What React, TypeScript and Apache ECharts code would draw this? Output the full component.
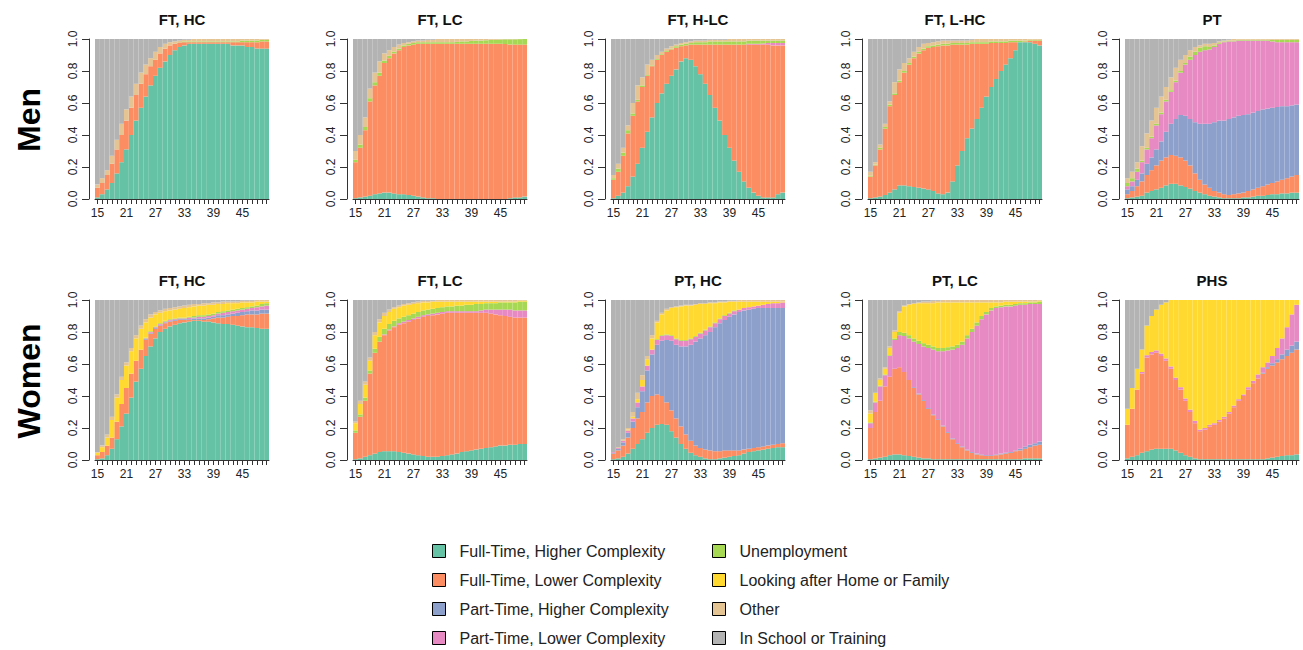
import React, { useEffect, useRef } from 'react';
import * as echarts from 'echarts';

const ages = ['15','16','17','18','19','20','21','22','23','24','25','26','27','28','29','30','31','32','33','34','35','36','37','38','39','40','41','42','43','44','45','46','47','48','49','50'];

const stateNames = [
  'Full-Time, Higher Complexity',
  'Full-Time, Lower Complexity',
  'Part-Time, Higher Complexity',
  'Part-Time, Lower Complexity',
  'Unemployment',
  'Looking after Home or Family',
  'Other',
  'In School or Training',
];
const stateColors = ['#66C2A5', '#FC8D62', '#8DA0CB', '#E78AC3', '#A6D854', '#FFD92F', '#E5C494', '#B3B3B3'];

// Upper edge of each stacked layer (cumulative share).
// Men, FT HC
const mFTHC_ftHigh = [0.01,0.03,0.06,0.10,0.16,0.23,0.31,0.40,0.49,0.57,0.64,0.71,0.77,0.82,0.86,0.90,0.93,0.95,0.96,0.97,0.97,0.97,0.97,0.97,0.97,0.97,0.97,0.97,0.96,0.96,0.96,0.95,0.95,0.94,0.94,0.94];
const mFTHC_ftLow = [0.07,0.10,0.15,0.22,0.31,0.40,0.49,0.57,0.65,0.72,0.78,0.83,0.87,0.91,0.94,0.96,0.97,0.975,0.98,0.98,0.98,0.98,0.98,0.98,0.98,0.98,0.98,0.98,0.98,0.98,0.98,0.98,0.98,0.98,0.985,0.985];
const mFTHC_unemp = [0.07,0.10,0.15,0.22,0.31,0.40,0.49,0.57,0.65,0.72,0.78,0.83,0.87,0.91,0.94,0.96,0.97,0.975,0.985,0.985,0.985,0.985,0.985,0.985,0.985,0.985,0.985,0.985,0.985,0.985,0.99,0.99,0.99,0.99,0.995,0.995];
const mFTHC_other = [0.09,0.13,0.18,0.27,0.37,0.47,0.56,0.64,0.72,0.79,0.84,0.88,0.92,0.95,0.97,0.98,0.985,0.99,0.995,0.995,1,1,1,1,1,1,1,1,1,1,1,1,1,1,1,1];

// Men, FT LC
const mFTLC_ftHigh = [0.005,0.01,0.015,0.02,0.03,0.035,0.04,0.04,0.035,0.03,0.03,0.025,0.02,0.015,0.01,0.005,0.005,0,0,0,0,0,0,0,0,0,0,0,0,0,0,0,0.005,0.01,0.01,0.015];
const mFTLC_ftLow = [0.23,0.32,0.43,0.61,0.71,0.77,0.85,0.88,0.91,0.93,0.95,0.96,0.965,0.97,0.97,0.97,0.97,0.97,0.97,0.97,0.97,0.97,0.97,0.97,0.97,0.97,0.97,0.97,0.97,0.97,0.97,0.968,0.966,0.965,0.965,0.965];
const mFTLC_unemp = [0.245,0.34,0.45,0.63,0.73,0.79,0.865,0.895,0.92,0.94,0.96,0.97,0.975,0.98,0.98,0.98,0.98,0.98,0.98,0.98,0.98,0.982,0.985,0.985,0.988,0.99,0.99,0.992,0.995,0.995,0.997,0.998,0.998,0.998,0.999,1];
const mFTLC_other = [0.30,0.40,0.51,0.69,0.79,0.86,0.91,0.93,0.95,0.965,0.975,0.98,0.985,0.99,0.99,0.995,0.995,1,1,1,1,1,1,1,1,1,1,1,1,1,1,1,1,1,1,1];

// Men, FT H-LC
const mFTHLC_ftHigh = [0.005,0.02,0.04,0.08,0.14,0.22,0.32,0.42,0.51,0.60,0.66,0.72,0.77,0.81,0.86,0.88,0.87,0.83,0.78,0.72,0.65,0.57,0.49,0.40,0.32,0.24,0.17,0.11,0.07,0.04,0.02,0.01,0.01,0.01,0.03,0.04];
const mFTHLC_ftLow = [0.12,0.17,0.27,0.41,0.52,0.61,0.70,0.77,0.83,0.87,0.90,0.92,0.935,0.945,0.955,0.96,0.965,0.965,0.965,0.965,0.965,0.965,0.965,0.965,0.965,0.965,0.965,0.965,0.965,0.965,0.965,0.965,0.965,0.96,0.96,0.96];
const mFTHLC_ptLow = [0.12,0.17,0.27,0.41,0.52,0.61,0.70,0.77,0.83,0.87,0.90,0.92,0.935,0.945,0.955,0.96,0.965,0.965,0.965,0.965,0.965,0.965,0.965,0.965,0.965,0.965,0.965,0.965,0.97,0.97,0.97,0.972,0.975,0.975,0.975,0.975];
const mFTHLC_unemp = [0.13,0.19,0.29,0.43,0.535,0.62,0.71,0.775,0.835,0.875,0.905,0.925,0.94,0.955,0.965,0.97,0.975,0.98,0.98,0.98,0.985,0.985,0.985,0.985,0.985,0.985,0.985,0.985,0.99,0.99,0.99,0.99,0.99,0.99,0.99,0.99];
const mFTHLC_other = [0.15,0.22,0.32,0.46,0.60,0.71,0.76,0.84,0.87,0.90,0.92,0.94,0.955,0.965,0.975,0.98,0.985,0.99,0.99,0.99,0.995,0.995,0.995,0.995,1,1,1,1,1,1,1,1,1,1,1,1];

// Men, FT L-HC
const mFTLHC_ftHigh = [0.005,0.01,0.015,0.025,0.04,0.06,0.085,0.085,0.08,0.075,0.07,0.065,0.06,0.05,0.035,0.03,0.04,0.11,0.21,0.30,0.38,0.44,0.50,0.57,0.64,0.70,0.75,0.80,0.84,0.88,0.93,0.98,0.98,0.98,0.97,0.96];
const mFTLHC_ftLow = [0.14,0.21,0.31,0.44,0.58,0.65,0.73,0.79,0.84,0.88,0.91,0.93,0.945,0.95,0.955,0.96,0.96,0.965,0.965,0.965,0.965,0.97,0.97,0.97,0.97,0.975,0.975,0.975,0.975,0.98,0.98,0.98,0.985,0.99,0.99,0.99];
const mFTLHC_unemp = [0.145,0.215,0.32,0.45,0.59,0.66,0.74,0.80,0.85,0.89,0.92,0.94,0.955,0.96,0.965,0.97,0.97,0.975,0.975,0.975,0.975,0.98,0.98,0.98,0.98,0.985,0.985,0.985,0.985,0.99,0.99,0.99,0.99,0.995,0.995,0.995];
const mFTLHC_other = [0.17,0.23,0.34,0.47,0.61,0.73,0.81,0.85,0.88,0.92,0.95,0.97,0.975,0.98,0.985,0.99,0.99,0.99,0.99,0.99,0.99,0.995,1,1,1,1,1,1,1,1,1,1,1,1,1,1];

// Men, PT
const mPT_ftHigh = [0.005,0.01,0.015,0.02,0.04,0.05,0.06,0.07,0.085,0.095,0.095,0.085,0.075,0.065,0.05,0.04,0.03,0.02,0.015,0.01,0.005,0.005,0.005,0.005,0.01,0.01,0.015,0.02,0.02,0.025,0.03,0.03,0.035,0.035,0.04,0.04];
const mPT_ftLow = [0.03,0.05,0.08,0.11,0.15,0.18,0.21,0.24,0.26,0.275,0.27,0.26,0.24,0.21,0.16,0.12,0.09,0.07,0.05,0.04,0.03,0.025,0.03,0.035,0.04,0.05,0.06,0.07,0.08,0.09,0.10,0.11,0.12,0.13,0.14,0.15];
const mPT_ptHigh = [0.06,0.08,0.12,0.16,0.22,0.26,0.31,0.36,0.42,0.47,0.50,0.525,0.52,0.50,0.48,0.47,0.47,0.47,0.48,0.49,0.49,0.50,0.51,0.52,0.525,0.53,0.54,0.55,0.56,0.565,0.57,0.575,0.58,0.58,0.585,0.59];
const mPT_ptLow = [0.08,0.11,0.17,0.23,0.31,0.38,0.46,0.53,0.61,0.67,0.73,0.79,0.84,0.87,0.90,0.92,0.93,0.935,0.95,0.97,0.98,0.985,0.985,0.99,0.99,0.99,0.99,0.99,0.99,0.99,0.985,0.98,0.98,0.98,0.98,0.98];
const mPT_unemp = [0.10,0.13,0.19,0.24,0.32,0.39,0.47,0.54,0.62,0.68,0.74,0.80,0.85,0.89,0.92,0.945,0.955,0.95,0.96,0.975,0.985,0.99,0.99,0.995,0.995,0.995,0.995,0.995,0.995,0.995,0.995,0.995,0.995,0.995,0.995,0.995];
const mPT_other = [0.13,0.17,0.23,0.33,0.41,0.49,0.57,0.64,0.70,0.76,0.82,0.87,0.90,0.93,0.95,0.96,0.97,0.97,0.975,0.985,0.99,0.995,1,1,1,1,1,1,1,1,1,1,1,1,1,1];

// Women, FT HC
const wFTHC_ftHigh = [0.005,0.01,0.03,0.07,0.13,0.21,0.29,0.39,0.49,0.57,0.65,0.71,0.76,0.80,0.82,0.835,0.845,0.855,0.86,0.865,0.87,0.87,0.865,0.865,0.86,0.855,0.85,0.85,0.845,0.84,0.835,0.83,0.83,0.825,0.82,0.82];
const wFTHC_ftLow = [0.03,0.05,0.09,0.14,0.24,0.35,0.45,0.54,0.62,0.69,0.75,0.79,0.82,0.84,0.855,0.865,0.87,0.875,0.875,0.875,0.875,0.875,0.875,0.88,0.885,0.89,0.89,0.895,0.90,0.90,0.905,0.91,0.91,0.91,0.915,0.915];
const wFTHC_ptHigh = [0.03,0.05,0.09,0.14,0.24,0.35,0.45,0.54,0.62,0.69,0.755,0.795,0.825,0.845,0.86,0.87,0.875,0.88,0.88,0.88,0.885,0.885,0.885,0.89,0.895,0.905,0.905,0.91,0.915,0.92,0.925,0.93,0.935,0.935,0.94,0.94];
const wFTHC_ptLow = [0.03,0.05,0.09,0.14,0.24,0.35,0.45,0.54,0.62,0.69,0.76,0.80,0.83,0.85,0.865,0.875,0.88,0.885,0.885,0.89,0.89,0.895,0.895,0.90,0.905,0.915,0.92,0.925,0.93,0.935,0.94,0.945,0.95,0.955,0.96,0.965];
const wFTHC_unemp = [0.03,0.05,0.09,0.14,0.24,0.35,0.45,0.54,0.62,0.69,0.765,0.805,0.835,0.855,0.87,0.88,0.885,0.89,0.89,0.895,0.90,0.905,0.905,0.91,0.915,0.925,0.93,0.935,0.94,0.945,0.95,0.955,0.96,0.965,0.975,0.98];
const wFTHC_home = [0.045,0.08,0.14,0.25,0.39,0.50,0.59,0.68,0.76,0.82,0.86,0.89,0.91,0.92,0.93,0.935,0.94,0.945,0.95,0.955,0.96,0.965,0.965,0.97,0.97,0.975,0.975,0.98,0.98,0.98,0.985,0.985,0.985,0.99,0.99,0.99];
const wFTHC_other = [0.05,0.09,0.16,0.27,0.41,0.52,0.61,0.70,0.78,0.84,0.88,0.91,0.925,0.935,0.945,0.95,0.955,0.96,0.965,0.97,0.975,0.975,0.98,0.98,0.985,0.985,0.99,0.99,0.99,0.99,0.995,0.995,0.995,1,1,1];

// Women, FT LC
const wFTLC_ftHigh = [0.005,0.01,0.02,0.03,0.04,0.05,0.055,0.055,0.055,0.05,0.045,0.04,0.035,0.03,0.025,0.02,0.02,0.02,0.025,0.03,0.035,0.04,0.05,0.055,0.06,0.065,0.07,0.075,0.08,0.085,0.09,0.09,0.095,0.095,0.10,0.10];
const wFTLC_ftLow = [0.17,0.27,0.37,0.54,0.67,0.74,0.78,0.81,0.83,0.845,0.855,0.865,0.875,0.885,0.895,0.90,0.905,0.91,0.915,0.92,0.92,0.92,0.92,0.92,0.92,0.92,0.92,0.92,0.915,0.91,0.905,0.90,0.895,0.89,0.89,0.89];
const wFTLC_ptLow = [0.17,0.27,0.37,0.54,0.67,0.74,0.785,0.815,0.835,0.855,0.865,0.875,0.885,0.895,0.905,0.91,0.915,0.92,0.925,0.93,0.93,0.93,0.93,0.93,0.93,0.93,0.935,0.94,0.94,0.94,0.94,0.94,0.94,0.935,0.935,0.935];
const wFTLC_unemp = [0.185,0.285,0.39,0.56,0.695,0.77,0.82,0.85,0.87,0.885,0.895,0.905,0.915,0.925,0.935,0.94,0.945,0.95,0.955,0.96,0.96,0.965,0.965,0.97,0.97,0.975,0.975,0.98,0.98,0.98,0.985,0.985,0.985,0.985,0.99,0.99];
const wFTLC_home = [0.23,0.35,0.47,0.62,0.78,0.86,0.90,0.925,0.945,0.955,0.965,0.97,0.975,0.98,0.985,0.985,0.99,0.99,0.99,0.99,0.99,0.99,0.99,0.99,0.99,0.99,0.99,0.99,0.99,0.99,0.99,0.99,0.99,0.99,0.995,0.995];
const wFTLC_other = [0.24,0.37,0.49,0.64,0.80,0.88,0.92,0.94,0.955,0.965,0.975,0.98,0.985,0.99,0.995,0.995,0.995,1,1,1,1,1,1,1,1,1,1,1,1,1,1,1,1,1,1,1];

// Women, PT HC
const wPTHC_ftHigh = [0.005,0.01,0.02,0.04,0.07,0.10,0.13,0.17,0.20,0.22,0.225,0.22,0.18,0.14,0.10,0.07,0.045,0.03,0.02,0.01,0.005,0.005,0.01,0.015,0.02,0.025,0.03,0.04,0.05,0.055,0.06,0.065,0.07,0.075,0.08,0.08];
const wPTHC_ftLow = [0.04,0.06,0.09,0.14,0.20,0.26,0.30,0.36,0.40,0.41,0.40,0.36,0.31,0.26,0.21,0.16,0.12,0.09,0.075,0.065,0.06,0.055,0.055,0.06,0.06,0.06,0.06,0.065,0.07,0.075,0.08,0.085,0.09,0.095,0.10,0.105];
const wPTHC_ptHigh = [0.045,0.07,0.11,0.17,0.24,0.33,0.43,0.56,0.66,0.72,0.745,0.75,0.745,0.72,0.71,0.71,0.72,0.74,0.76,0.78,0.80,0.83,0.855,0.875,0.895,0.91,0.925,0.935,0.94,0.945,0.95,0.95,0.95,0.95,0.95,0.95];
const wPTHC_ptLow = [0.05,0.075,0.12,0.185,0.26,0.36,0.46,0.59,0.69,0.75,0.775,0.78,0.775,0.755,0.745,0.745,0.755,0.77,0.79,0.81,0.83,0.855,0.88,0.90,0.915,0.93,0.94,0.95,0.955,0.96,0.965,0.97,0.975,0.98,0.98,0.985];
const wPTHC_unemp = [0.05,0.075,0.12,0.185,0.26,0.36,0.46,0.59,0.69,0.755,0.78,0.785,0.78,0.76,0.75,0.75,0.76,0.775,0.795,0.815,0.835,0.86,0.885,0.905,0.92,0.935,0.94,0.95,0.955,0.96,0.965,0.97,0.975,0.98,0.98,0.985];
const wPTHC_home = [0.05,0.075,0.12,0.19,0.27,0.38,0.50,0.63,0.76,0.86,0.91,0.935,0.95,0.955,0.96,0.965,0.965,0.97,0.975,0.975,0.98,0.98,0.985,0.985,0.99,0.99,0.99,0.99,0.99,0.99,0.99,0.99,0.99,0.99,0.99,0.99];
const wPTHC_other = [0.05,0.08,0.13,0.20,0.30,0.42,0.53,0.65,0.78,0.87,0.92,0.945,0.955,0.96,0.965,0.97,0.97,0.975,0.98,0.98,0.985,0.985,0.99,0.99,0.995,0.995,1,1,1,1,1,1,1,1,1,1];

// Women, PT LC
const wPTLC_ftHigh = [0.005,0.01,0.015,0.02,0.03,0.035,0.035,0.03,0.025,0.02,0.015,0.01,0.01,0.005,0.005,0.005,0.005,0.005,0.005,0.005,0.005,0.005,0.005,0.005,0.005,0.005,0.005,0.005,0.005,0.005,0.005,0.005,0.01,0.01,0.01,0.01];
const wPTLC_ftLow = [0.20,0.30,0.37,0.46,0.52,0.57,0.58,0.55,0.50,0.45,0.41,0.37,0.32,0.28,0.25,0.21,0.17,0.13,0.10,0.08,0.06,0.045,0.035,0.03,0.025,0.025,0.03,0.035,0.04,0.045,0.055,0.06,0.07,0.08,0.09,0.095];
const wPTLC_ptHigh = [0.20,0.30,0.37,0.46,0.52,0.57,0.58,0.55,0.50,0.455,0.415,0.375,0.325,0.285,0.255,0.215,0.175,0.135,0.105,0.085,0.065,0.05,0.04,0.035,0.03,0.03,0.035,0.04,0.045,0.05,0.06,0.07,0.085,0.095,0.105,0.115];
const wPTLC_ptLow = [0.23,0.36,0.46,0.53,0.65,0.75,0.78,0.775,0.76,0.74,0.725,0.71,0.70,0.69,0.68,0.68,0.685,0.69,0.70,0.72,0.76,0.80,0.84,0.88,0.91,0.935,0.95,0.955,0.96,0.96,0.965,0.97,0.97,0.975,0.975,0.975];
const wPTLC_unemp = [0.235,0.365,0.465,0.535,0.655,0.76,0.80,0.795,0.78,0.76,0.745,0.73,0.72,0.71,0.70,0.70,0.705,0.71,0.72,0.74,0.78,0.82,0.86,0.90,0.925,0.95,0.96,0.965,0.97,0.97,0.975,0.98,0.98,0.985,0.985,0.99];
const wPTLC_home = [0.29,0.42,0.50,0.57,0.70,0.80,0.92,0.96,0.97,0.975,0.98,0.98,0.98,0.98,0.985,0.985,0.985,0.985,0.985,0.985,0.985,0.985,0.985,0.985,0.985,0.985,0.985,0.985,0.99,0.99,0.99,0.99,0.99,0.99,0.99,0.995];
const wPTLC_other = [0.31,0.42,0.51,0.58,0.71,0.81,0.93,0.965,0.975,0.98,0.985,0.99,0.99,0.995,0.995,1,1,1,1,1,1,1,1,1,1,1,1,1,1,1,1,1,1,1,1,1];

// Women, PHS
const wPHS_ftHigh = [0.01,0.02,0.03,0.045,0.055,0.065,0.07,0.07,0.07,0.07,0.06,0.045,0.03,0.02,0.01,0.005,0.005,0.005,0.005,0.005,0.005,0.005,0.005,0.005,0.005,0.005,0.005,0.005,0.005,0.01,0.015,0.02,0.025,0.03,0.03,0.035];
const wPHS_ftLow = [0.22,0.32,0.44,0.54,0.64,0.66,0.67,0.65,0.62,0.57,0.50,0.44,0.37,0.30,0.23,0.18,0.19,0.21,0.22,0.24,0.26,0.29,0.33,0.37,0.40,0.44,0.48,0.51,0.54,0.57,0.59,0.61,0.63,0.65,0.67,0.69];
const wPHS_ptHigh = [0.22,0.32,0.44,0.54,0.64,0.66,0.67,0.65,0.62,0.57,0.50,0.44,0.37,0.30,0.23,0.18,0.19,0.21,0.22,0.24,0.26,0.29,0.33,0.37,0.40,0.44,0.48,0.51,0.545,0.58,0.605,0.63,0.66,0.69,0.715,0.74];
const wPHS_ptLow = [0.22,0.32,0.44,0.55,0.655,0.675,0.685,0.665,0.635,0.585,0.515,0.455,0.385,0.315,0.245,0.19,0.20,0.22,0.23,0.25,0.27,0.30,0.34,0.38,0.41,0.455,0.495,0.535,0.58,0.61,0.65,0.70,0.76,0.83,0.91,0.97];
const wPHS_home = [0.32,0.45,0.57,0.69,0.84,0.90,0.94,0.97,0.985,1,1,1,1,1,1,1,1,1,1,1,1,1,1,1,1,1,1,1,1,1,1,1,1,1,1,1];

const panelTitles = ['FT, HC', 'FT, LC', 'FT, H-LC', 'FT, L-HC', 'PT', 'FT, HC', 'FT, LC', 'PT, HC', 'PT, LC', 'PHS'];
const rowLabels = ['Men', 'Women'];

const panelEdges = [
  [mFTHC_ftHigh, mFTHC_ftLow, null, null, mFTHC_unemp, null, mFTHC_other],
  [mFTLC_ftHigh, mFTLC_ftLow, null, null, mFTLC_unemp, null, mFTLC_other],
  [mFTHLC_ftHigh, mFTHLC_ftLow, null, mFTHLC_ptLow, mFTHLC_unemp, null, mFTHLC_other],
  [mFTLHC_ftHigh, mFTLHC_ftLow, null, null, mFTLHC_unemp, null, mFTLHC_other],
  [mPT_ftHigh, mPT_ftLow, mPT_ptHigh, mPT_ptLow, mPT_unemp, null, mPT_other],
  [wFTHC_ftHigh, wFTHC_ftLow, wFTHC_ptHigh, wFTHC_ptLow, wFTHC_unemp, wFTHC_home, wFTHC_other],
  [wFTLC_ftHigh, wFTLC_ftLow, null, wFTLC_ptLow, wFTLC_unemp, wFTLC_home, wFTLC_other],
  [wPTHC_ftHigh, wPTHC_ftLow, wPTHC_ptHigh, wPTHC_ptLow, wPTHC_unemp, wPTHC_home, wPTHC_other],
  [wPTLC_ftHigh, wPTLC_ftLow, wPTLC_ptHigh, wPTLC_ptLow, wPTLC_unemp, wPTLC_home, wPTLC_other],
  [wPHS_ftHigh, wPHS_ftLow, wPHS_ptHigh, wPHS_ptLow, null, wPHS_home, null],
];

function toShares(edges: (number[] | null)[]): number[][] {
  const out: number[][] = Array.from({ length: 8 }, () => []);
  for (let i = 0; i < ages.length; i++) {
    let prev = 0;
    for (let k = 0; k < 7; k++) {
      const e = edges[k];
      let top = e ? Math.max(e[i], prev) : prev;
      top = Math.min(top, 1);
      out[k].push(Math.round((top - prev) * 10000) / 10000);
      prev = top;
    }
    out[7].push(Math.round((1 - prev) * 10000) / 10000);
  }
  return out;
}

const FONT = '"Liberation Sans", Arial, Helvetica, sans-serif';
const colLeft = [95, 353, 611, 868, 1125];
const rowTop = [39, 300];
const PW = 174;
const PH = 160;

export default function App() {
  const ref = useRef<HTMLDivElement>(null);
  useEffect(() => {
    if (!ref.current) return;
    const chart = echarts.init(ref.current, undefined, { renderer: 'svg' });
    const grids: any[] = [];
    const xAxes: any[] = [];
    const yAxes: any[] = [];
    const series: any[] = [];
    const graphics: any[] = [];
    panelEdges.forEach((edges, p) => {
      const row = Math.floor(p / 5);
      const col = p % 5;
      grids.push({ left: colLeft[col], top: rowTop[row], width: PW, height: PH, containLabel: false });
      xAxes.push({
        gridIndex: p,
        type: 'category',
        data: ages,
        boundaryGap: true,
        offset: 3,
        axisLine: { show: true, lineStyle: { color: '#333', width: 1 } },
        axisTick: { show: true, alignWithLabel: true, interval: 0, length: 5, lineStyle: { color: '#333', width: 1 } },
        axisLabel: { interval: 5, fontSize: 12, color: '#222', margin: 5, fontFamily: FONT },
        splitLine: { show: false },
      });
      yAxes.push({
        gridIndex: p,
        type: 'value',
        min: 0,
        max: 1,
        interval: 0.2,
        offset: 6,
        axisLine: { show: true, lineStyle: { color: '#333', width: 1 } },
        axisTick: { show: true, length: 7, lineStyle: { color: '#333', width: 1 } },
        axisLabel: { rotate: 90, fontSize: 12, color: '#222', margin: 10, fontFamily: FONT, formatter: (v: number) => v.toFixed(1) },
        splitLine: { show: false },
      });
      const shares = toShares(edges);
      shares.forEach((data, k) => {
        series.push({
          type: 'bar',
          name: stateNames[k],
          xAxisIndex: p,
          yAxisIndex: p,
          stack: 'panel' + p,
          data,
          barCategoryGap: '0%',
          itemStyle: { color: stateColors[k] },
          emphasis: { disabled: true },
          silent: true,
        });
      });
      graphics.push({
        type: 'text',
        x: colLeft[col] + PW / 2,
        y: row === 0 ? 19 : 280,
        style: { text: panelTitles[p], align: 'center', verticalAlign: 'middle', fontSize: 15, fontWeight: 'bold', fontFamily: FONT, fill: '#111' },
      });
    });
    rowLabels.forEach((t, r) => {
      graphics.push({
        type: 'text',
        x: 29,
        y: r === 0 ? 120 : 381,
        rotation: Math.PI / 2,
        style: { text: t, align: 'center', verticalAlign: 'middle', fontSize: 32, fontWeight: 'bold', fontFamily: FONT, fill: '#000' },
      });
    });
    const legendBase = {
      orient: 'vertical',
      padding: 0,
      height: 106,
      itemWidth: 13,
      itemHeight: 13,
      itemGap: 13,
      icon: 'rect',
      itemStyle: { borderColor: '#000', borderWidth: 1 },
      textStyle: { fontSize: 16, color: '#222', fontFamily: FONT, padding: [0, 0, 0, 9] },
      selectedMode: false,
    };
    chart.setOption({
      animation: false,
      backgroundColor: '#fff',
      grid: grids,
      xAxis: xAxes,
      yAxis: yAxes,
      series,
      graphic: graphics,
      legend: [
        { ...legendBase, left: 432, top: 543, data: stateNames.slice(0, 4) },
        { ...legendBase, left: 712, top: 543, data: stateNames.slice(4, 8) },
      ],
    });
    return () => chart.dispose();
  }, []);
  return <div ref={ref} style={{ position: 'absolute', left: 0, top: 0, width: 1303, height: 650, background: '#fff' }} />;
}
